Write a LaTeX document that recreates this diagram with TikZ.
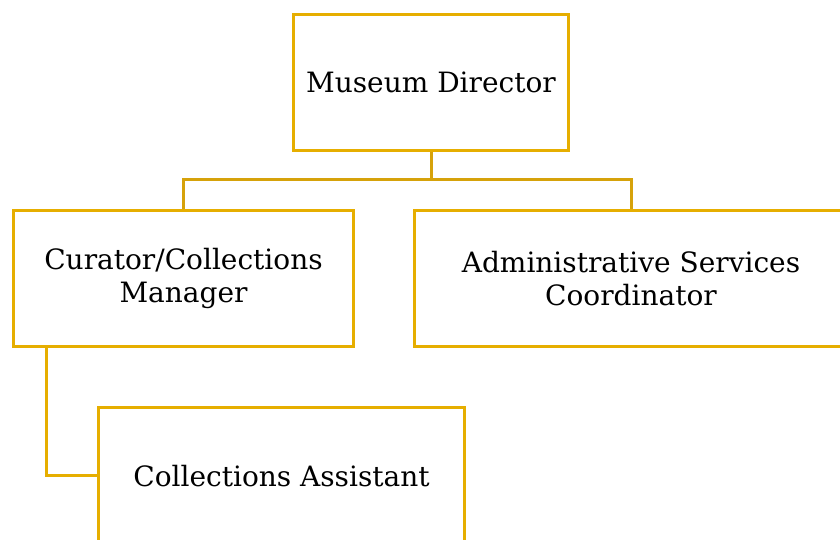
\documentclass[tikz,border=0pt]{standalone}
\usepackage{fontspec}
\setmainfont{DejaVu Serif}
\definecolor{gold}{RGB}{230,174,0}
\definecolor{golddark}{RGB}{214,162,10}
\begin{document}
\begin{tikzpicture}[x=1pt,y=1pt,
  orgbox/.style={draw=gold, line width=3pt, fill=white, inner sep=0pt,
    align=center, font=\fontsize{28}{33}\selectfont, text=black},
  link/.style={draw=gold, line width=3pt}]
\useasboundingbox (0,0) rectangle (840,540);
\clip (0,0) rectangle (840,540);
\node[orgbox, minimum width=275pt, minimum height=136pt] (dir) at (431,457.5) {Museum Director};
\node[orgbox, minimum width=340pt, minimum height=136pt] (cur) at (183.5,261.5) {Curator/Collections\\Manager};
\node[orgbox, minimum width=433pt, minimum height=136pt] (adm) at (631,261.5) {Administrative Services\\Coordinator};
\node[orgbox, minimum width=366pt, minimum height=137pt] (ast) at (281.5,64) {Collections Assistant};
\draw[link, draw=golddark] (dir.south) -- ++(0,-28) coordinate (bus) -| (cur.north);
\draw[link, draw=golddark] (bus) -| (adm.north);
\draw[link] ([xshift=34pt]cur.south west) |- (ast.west);
\end{tikzpicture}
\end{document}
